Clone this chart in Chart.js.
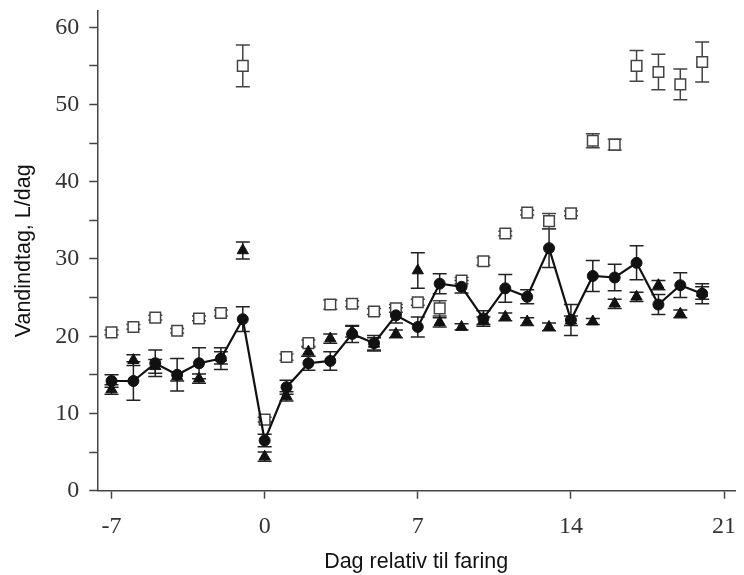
<!DOCTYPE html>
<html><head><meta charset="utf-8">
<script src="https://cdn.jsdelivr.net/npm/chart.js@4/dist/chart.umd.min.js"></script>
<style>html,body{margin:0;padding:0;background:#fff;}#wrap{width:744px;height:575px;position:relative;}</style>
</head><body><div id="wrap"><canvas id="c"></canvas></div>
<script>
const days = [-7,-6,-5,-4,-3,-2,-1,0,1,2,3,4,5,6,7,8,9,10,11,12,13,14,15,16,17,18,19,20];
const circleMean = [14.2,14.2,16.5,15.0,16.5,17.1,22.2,6.5,13.4,16.5,16.8,20.3,19.1,22.7,21.2,26.8,26.4,22.3,26.2,25.1,31.4,22.1,27.8,27.6,29.5,24.1,26.6,25.5];
const circleErr  = [0.8,2.5,1.7,2.1,2.0,1.4,1.6,0.8,0.9,0.9,1.2,1.1,1.0,1.0,1.3,1.3,0.8,1.0,1.8,0.9,2.5,2.0,2.0,1.7,2.2,1.3,1.6,1.3];
const triMean = [13.1,16.9,16.1,14.8,14.5,17.2,31.1,4.4,12.2,18.0,19.7,20.6,19.0,20.3,28.5,21.8,21.2,22.0,22.5,21.9,21.2,22.0,21.9,24.2,25.1,26.6,22.9,25.6];
const triErr  = [0.6,0.7,0.9,0.6,0.6,0.8,1.1,0.6,0.6,0.6,0.6,0.7,0.8,0.5,2.3,0.6,0.4,0.5,0.5,0.5,0.5,0.6,0.4,0.6,0.6,0.6,0.5,0.8];
const sqMean = [20.5,21.2,22.4,20.7,22.3,23.0,55.0,9.2,17.3,19.1,24.1,24.2,23.2,23.6,24.4,23.6,27.2,29.7,33.3,36.0,34.9,35.9,45.3,44.8,55.0,54.2,52.6,55.5];
const sqErr  = [0.3,0.3,0.3,0.3,0.3,0.4,2.7,0.3,0.4,0.4,0.6,0.4,0.4,0.5,0.4,1.0,0.4,0.5,0.3,0.3,1.0,0.3,0.9,0.7,2.0,2.3,2.0,2.6];
const xTickValues = [-7,0,7,14,21];
const xTitle = 'Dag relativ til faring';
const yTitle = 'Vandindtag, L/dag';

const pts = arr => days.map((d,i)=>({x:d,y:arr[i]}));

const errorBars = {
  id:'errorBars',
  beforeDatasetsDraw(chart){
    const {ctx, scales:{x,y}} = chart;
    chart.data.datasets.forEach(ds=>{
      if(!ds.errors) return;
      ctx.save();
      ctx.strokeStyle = ds.errColor; ctx.lineWidth = 1.5;
      ds.data.forEach((p,j)=>{
        const e = ds.errors[j];
        const px = x.getPixelForValue(p.x);
        const t = y.getPixelForValue(p.y+e), b = y.getPixelForValue(p.y-e);
        ctx.beginPath();
        ctx.moveTo(px,t); ctx.lineTo(px,b);
        ctx.moveTo(px-7,t); ctx.lineTo(px+7,t);
        ctx.moveTo(px-7,b); ctx.lineTo(px+7,b);
        ctx.stroke();
      });
      ctx.restore();
    });
  }
};

const tickFont = {family:'Liberation Serif', size:24};
const titleFont = {family:'Liberation Sans', size:21.5};
const axisColor = '#444';

new Chart(document.getElementById('c'), {
  type:'scatter',
  data:{datasets:[
    {label:'circle', data:pts(circleMean), errors:circleErr, errColor:'#222', showLine:true, borderColor:'#111', borderWidth:2.2,
     pointStyle:'circle', pointRadius:5.5, pointBackgroundColor:'#111', pointBorderColor:'#111', pointBorderWidth:1},
    {label:'tri', data:pts(triMean), errors:triErr, errColor:'#222', showLine:false,
     pointStyle:'triangle', pointRadius:6.5, pointBackgroundColor:'#111', pointBorderColor:'#111', pointBorderWidth:1},
    {label:'sq', data:pts(sqMean), errors:sqErr, errColor:'#444', showLine:false,
     pointStyle:'rect', pointRadius:7.5, pointBackgroundColor:'#fff', pointBorderColor:'#444', pointBorderWidth:1.5}
  ]},
  options:{
    responsive:true, maintainAspectRatio:false, animation:false, devicePixelRatio:1,
    layout:{padding:{top:11,left:0,right:0,bottom:0}},
    plugins:{legend:{display:false}, tooltip:{enabled:false}},
    scales:{
      x:{type:'linear', min:-7.65, max:21.5,
        afterBuildTicks:s=>{s.ticks = xTickValues.map(v=>({value:v}));},
        afterFit:s=>{s.height = 84.3; s.paddingLeft = 0; s.paddingRight = 0;},
        ticks:{font:tickFont, color:'#333', padding:14, autoSkip:false, maxRotation:0},
        grid:{drawOnChartArea:false, tickLength:8, color:axisColor, tickWidth:1.5},
        border:{color:axisColor, width:1.5},
        title:{display:true, text:xTitle, font:titleFont, color:'#111', padding:{top:0,bottom:0}}
      },
      y:{min:0, max:62.1,
        afterFit:s=>{s.width = 97.3; s.paddingTop = 0; s.paddingBottom = 0;},
        ticks:{stepSize:5, includeBounds:false, font:tickFont, color:'#333', padding:10,
          callback:v=> (v%10===0 ? v : '')},
        grid:{drawOnChartArea:false, tickLength:8, color:axisColor, tickWidth:1.5},
        border:{color:axisColor, width:1.5},
        title:{display:true, text:yTitle, font:titleFont, color:'#111', padding:{top:11,bottom:0}}
      }
    }
  },
  plugins:[errorBars]
});
</script></body></html>
